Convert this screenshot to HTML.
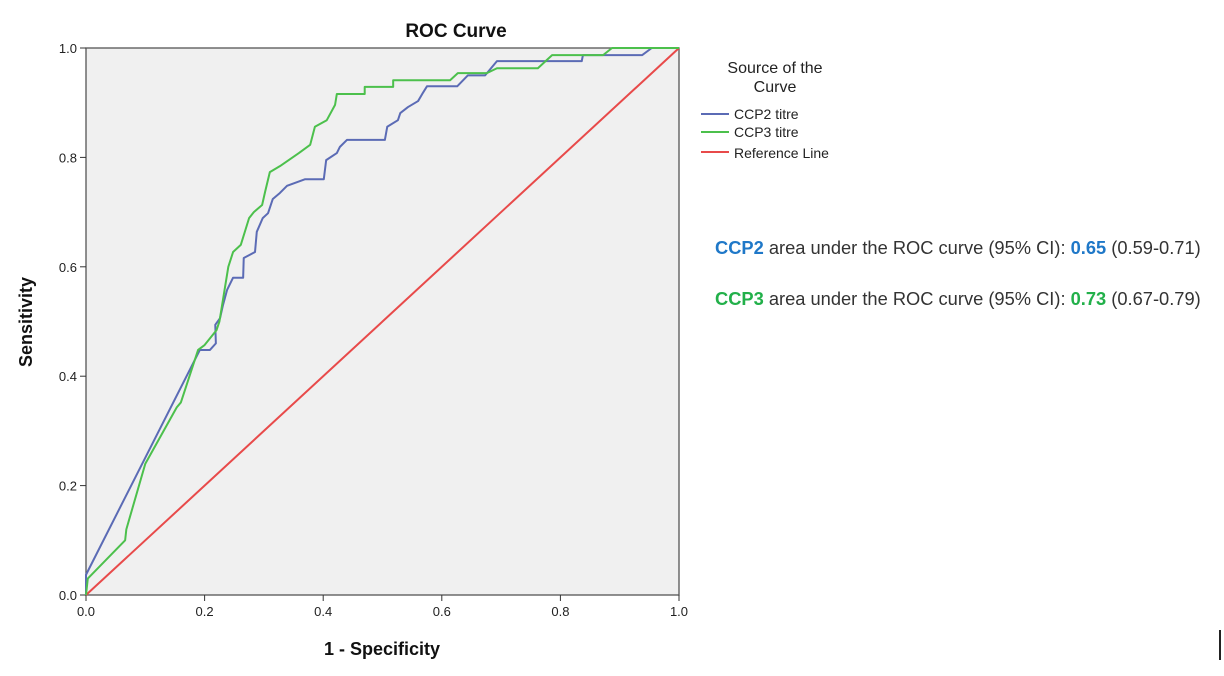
<!DOCTYPE html>
<html><head><meta charset="utf-8"><style>
body{margin:0;background:#fff;width:1224px;height:671px;overflow:hidden;font-family:"Liberation Sans",sans-serif}
</style></head><body>
<svg id="chart" width="1224" height="671" xmlns="http://www.w3.org/2000/svg">
<text x="456" y="37" text-anchor="middle" font-size="19" font-weight="bold" fill="#111">ROC Curve</text>
<rect x="86" y="48" width="593" height="547" fill="#f0f0f0" stroke="#555" stroke-width="1.3"/>
<g id="axes"></g>
<g id="series"></g>
<text x="382" y="655" text-anchor="middle" font-size="18" font-weight="bold" fill="#111">1 - Specificity</text>
<text transform="translate(32,322) rotate(-90)" text-anchor="middle" font-size="18" font-weight="bold" fill="#111">Sensitivity</text>
<g font-size="14" fill="#222">
<text x="775" y="73" text-anchor="middle" font-size="16">Source of the</text>
<text x="775" y="92" text-anchor="middle" font-size="16">Curve</text>
<line x1="701" y1="114" x2="729" y2="114" stroke="#5b6bb5" stroke-width="2"/>
<text x="734" y="119">CCP2 titre</text>
<line x1="701" y1="132" x2="729" y2="132" stroke="#4cc04c" stroke-width="2"/>
<text x="734" y="137">CCP3 titre</text>
<line x1="701" y1="152" x2="729" y2="152" stroke="#e84a4a" stroke-width="2"/>
<text x="734" y="158">Reference Line</text>
</g>
<text x="715" y="254" font-size="18.3" fill="#333"><tspan fill="#1f78c8" font-weight="bold">CCP2</tspan> area under the ROC curve (95% CI): <tspan fill="#1f78c8" font-weight="bold">0.65</tspan> (0.59-0.71)</text>
<text x="715" y="305" font-size="18.3" fill="#333"><tspan fill="#22b04a" font-weight="bold">CCP3</tspan> area under the ROC curve (95% CI): <tspan fill="#22b04a" font-weight="bold">0.73</tspan> (0.67-0.79)</text>
<rect x="1219" y="630" width="2" height="30" fill="#222"/>
</svg>
<script>
const xTicks=[0,0.2,0.4,0.6,0.8,1.0];
const yTicks=[0,0.2,0.4,0.6,0.8,1.0];
const ccp2X=[0,0,0.192,0.209,0.219,0.218,0.226,0.231,0.238,0.248,0.265,0.266,0.285,0.288,0.298,0.307,0.315,0.327,0.339,0.369,0.401,0.405,0.423,0.428,0.44,0.504,0.508,0.526,0.53,0.543,0.56,0.567,0.575,0.626,0.644,0.673,0.693,0.836,0.838,0.938,0.954,1];
const ccp2Y=[0,0.037,0.448,0.448,0.46,0.494,0.506,0.53,0.558,0.58,0.58,0.616,0.627,0.664,0.689,0.698,0.724,0.735,0.748,0.76,0.76,0.795,0.808,0.819,0.832,0.832,0.856,0.868,0.881,0.892,0.903,0.916,0.93,0.93,0.95,0.95,0.976,0.976,0.987,0.987,1,1];
const ccp3X=[0,0.003,0.066,0.068,0.1,0.153,0.16,0.189,0.2,0.22,0.225,0.24,0.248,0.261,0.275,0.283,0.297,0.302,0.31,0.327,0.359,0.378,0.386,0.406,0.42,0.423,0.47,0.47,0.518,0.518,0.614,0.627,0.676,0.693,0.762,0.786,0.872,0.887,1];
const ccp3Y=[0,0.03,0.1,0.12,0.24,0.343,0.352,0.448,0.457,0.484,0.5,0.6,0.627,0.64,0.689,0.7,0.713,0.737,0.773,0.784,0.808,0.823,0.856,0.868,0.896,0.916,0.916,0.929,0.929,0.941,0.941,0.954,0.954,0.963,0.963,0.987,0.987,1,1];
const refX=[0,1], refY=[0,1];
const X0=86,X1=679,Y0=595,Y1=48;
const sx=v=>X0+v*(X1-X0), sy=v=>Y0-v*(Y0-Y1);
const NS='http://www.w3.org/2000/svg';
const axes=document.getElementById('axes'), series=document.getElementById('series');
function mk(t,a,p){const e=document.createElementNS(NS,t);for(const k in a)e.setAttribute(k,a[k]);p.appendChild(e);return e;}
xTicks.forEach(v=>{
  const l=mk('line',{x1:sx(v),x2:sx(v),y1:Y0,y2:Y0+6,stroke:'#333'},axes);
  
  
  const t=mk('text',{x:sx(v),y:Y0+21,'text-anchor':'middle','font-size':13,fill:'#222'},axes);
  
  
  t.textContent=v.toFixed(1);
});
yTicks.forEach(v=>{
  const l=mk('line',{x1:X0-6,x2:X0,y1:sy(v),y2:sy(v),stroke:'#333'},axes);
  
  
  const t=mk('text',{x:X0-9,y:sy(v)+5,'text-anchor':'end','font-size':13,fill:'#222'},axes);
  
  
  t.textContent=v.toFixed(1);
});
function line(xs,ys,color,name){
  const p=mk('polyline',{points:xs.map((x,i)=>sx(x)+','+sy(ys[i])).join(' '),fill:'none',stroke:color,'stroke-width':2,'stroke-linejoin':'round'},series);
  
  
}
line(refX,refY,'#e84a4a','reference-line');
line(ccp2X,ccp2Y,'#5b6bb5','ccp2-curve');
line(ccp3X,ccp3Y,'#4cc04c','ccp3-curve');
</script>
</body></html>
